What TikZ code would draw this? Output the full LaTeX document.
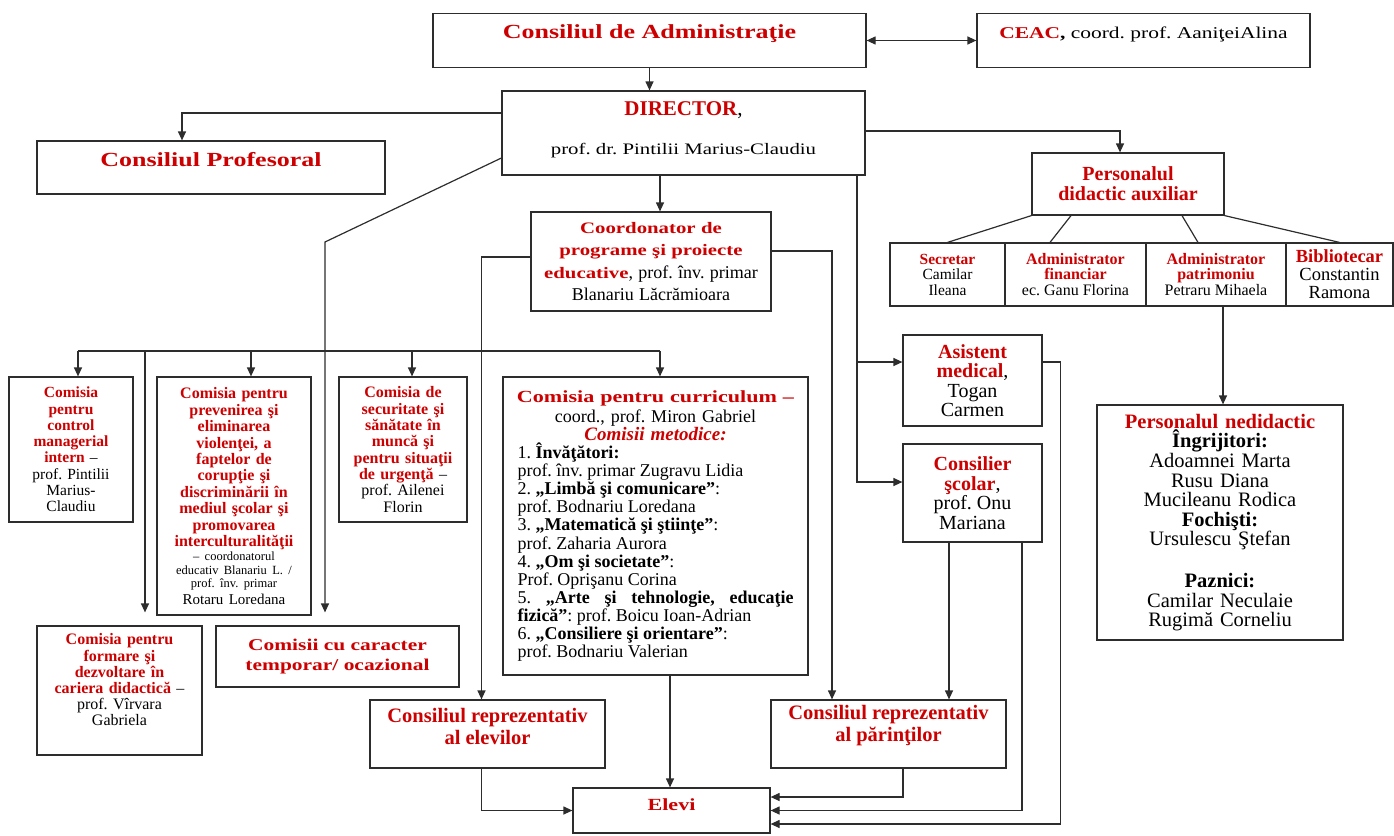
\documentclass[tikz,border=0pt]{standalone}
\usepackage{fontspec}
\setmainfont{Liberation Serif}
\newfontfamily\widefont{Liberation Serif}[FakeStretch=1.3]
\usetikzlibrary{arrows.meta, positioning}
\frenchspacing

\definecolor{redtxt}{RGB}{204,0,0}
\definecolor{linegray}{RGB}{45,45,45}
\newcommand{\redb}[1]{{\color{redtxt}\bfseries #1}}
\newcommand{\redw}[1]{{\widefont\color{redtxt}\bfseries #1}}
\newcommand{\fs}[2]{\fontsize{#1}{#2}\selectfont}

\begin{document}
\begin{tikzpicture}[x=1pt,y=-1pt,>={Triangle[length=9pt,width=8pt]},
    box node/.style={rectangle,draw=linegray,line width=1.2pt,inner sep=2pt},
    link/.style={draw=linegray,line width=1.2pt}]

        \useasboundingbox (0,0) rectangle (1394,835);

        % top row
        \node[box node, minimum width=433pt, minimum height=54pt] (cda) at (649.5,40.5) {};
        \node[anchor=base, text=redtxt, font=\widefont\bfseries\fs{20}{20}] (cdaText) at ([yshift=2.5pt]cda.center) {Consiliul de Administraţie};
        \node[box node, minimum width=333pt, minimum height=54pt] (ceac) at (1143.5,40.5) {};
        \node[anchor=base, font=\widefont\fs{16.5}{16.5}] (ceacText) at ([yshift=2.5pt]ceac.center) {\redb{CEAC}\textbf{,} coord. prof. AaniţeiAlina};

        \node[box node, minimum width=363pt, minimum height=84pt] (dir) at (683.5,133) {};
        \node[anchor=base, font=\fs{21}{21}] (dirHead) at ([yshift=18pt]dir.center) {\redb{DIRECTOR},};
        \node[anchor=base, font=\widefont\fs{16}{16}] (dirName) at ([yshift=-21pt]dir.center) {prof. dr. Pintilii Marius-Claudiu};

        \node[box node, minimum width=348pt, minimum height=53pt] (cp) at (211,167.5) {};
        \node[anchor=base, text=redtxt, font=\widefont\bfseries\fs{20}{20}] (cpText) at ([yshift=1.5pt]cp.center) {Consiliul Profesoral};

        % didactic auxiliar
        \node[box node, minimum width=192pt, minimum height=62pt, align=center, text=redtxt, font=\bfseries\fs{20}{20}] (pda) at (1128,184) {Personalul\\didactic auxiliar};
        \node[box node, minimum width=115pt, minimum height=63pt, align=center, font=\fs{15.5}{15.5}] (secr) at (947.5,274.5) {\redb{Secretar}\\Camilar\\Ileana};
        \node[box node, minimum width=141pt, minimum height=63pt, align=center, font=\fs{16}{15.7}] (fin) at (1075.5,274.5) {\redb{Administrator}\\\redb{financiar}\\ec. Ganu Florina};
        \node[box node, minimum width=140pt, minimum height=63pt, align=center, font=\fs{16}{15.7}] (patr) at (1216,274.5) {\redb{Administrator}\\\redb{patrimoniu}\\Petraru Mihaela};
        \node[box node, minimum width=107pt, minimum height=63pt, align=center, font=\fs{18.5}{18}] (bibl) at (1339.5,274.5) {\redb{Bibliotecar}\\Constantin\\Ramona};

        \node[box node, minimum width=246pt, minimum height=235pt, text width=240pt, align=center, font=\fs{20.5}{19.6}] (pn) at (1220,522.5)
            {\redb{Personalul nedidactic}\\\textbf{Îngrijitori:}\\Adoamnei Marta\\Rusu Diana\\Mucileanu Rodica\\\textbf{Fochişti:}\\Ursulescu Ştefan\\[22pt]\textbf{Paznici:}\\Camilar Neculaie\\Rugimă Corneliu};

        \node[box node, minimum width=139pt, minimum height=91pt, align=center, font=\fs{20}{19.5}] (asist) at (972.5,380.5) {\redb{Asistent}\\\redb{medical},\\Togan\\Carmen};
        \node[box node, minimum width=139pt, minimum height=98pt, align=center, font=\fs{20}{19.5}] (cons) at (972.5,493) {\redb{Consilier}\\\redb{şcolar},\\prof. Onu\\Mariana};

        % coordonator si comisii
        \node[box node, minimum width=240pt, minimum height=99pt, text width=234pt, align=center, font=\fs{16}{22.3}] (coord) at (651,261.5)
            {\redw{Coordonator de}\\\redw{programe şi proiecte}\\\redw{educative}{\fs{18}{22.3}, prof. înv. primar}\\{\fs{18}{22.3}Blanariu Lăcrămioara}};

        \node[box node, minimum width=124pt, minimum height=145pt, text width=120pt, align=center, font=\fs{15.5}{16.3}] (ctrl) at (71,449.5)
            {\redb{Comisia}\\\redb{pentru}\\\redb{control}\\\redb{managerial}\\\redb{intern} –\\prof. Pintilii\\Marius-\\Claudiu};
        \node[box node, minimum width=154pt, minimum height=238pt, text width=150pt, align=center, font=\fs{16}{16.4}] (prev) at (234,496)
            {\redb{Comisia pentru}\\\redb{prevenirea şi}\\\redb{eliminarea}\\\redb{violenţei, a}\\\redb{faptelor de}\\\redb{corupţie şi}\\\redb{discriminării în}\\\redb{mediul şcolar şi}\\\redb{promovarea}\\\redb{interculturalităţii}\par\vspace{1pt}
             \fs{12.5}{13.4}– coordonatorul\\educativ Blanariu L. /\\prof. înv. primar\par\fs{15}{14}Rotaru Loredana};
        \node[box node, minimum width=128pt, minimum height=145pt, text width=124pt, align=center, font=\fs{16}{16.3}] (sec) at (403,449.5)
            {\redb{Comisia de}\\\redb{securitate şi}\\\redb{sănătate în}\\\redb{muncă şi}\\\redb{pentru situaţii}\\\redb{de urgenţă} –\\prof. Ailenei\\Florin};

        \node[box node, minimum width=305pt, minimum height=298pt, text width=296pt, align=center, font=\fs{18}{18.1}] (curr) at (655.5,526)
            {\redw{\fs{17}{20}Comisia pentru curriculum –}\\[2pt]
             coord., prof. Miron Gabriel\\
             {\color{redtxt}\bfseries\itshape\fs{19}{18.1}Comisii metodice:}\\
             \parbox[t]{276pt}{\raggedright\spaceskip=0pt\xspaceskip=0pt\fs{18}{18.1}%
             1. \textbf{Învăţători:}\\
             prof. înv. primar Zugravu Lidia\\
             2. \textbf{„Limbă şi comunicare”}:\\
             prof. Bodnariu Loredana\\
             3. \textbf{„Matematică şi ştiinţe”}:\\
             prof. Zaharia Aurora\\
             4. \textbf{„Om şi societate”}:\\
             Prof. Oprişanu Corina\\
             \makebox[276pt][s]{5. \textbf{„Arte şi tehnologie, educaţie}}\\
             \textbf{fizică”}: prof. Boicu Ioan-Adrian\\
             6. \textbf{„Consiliere şi orientare”}:\\
             prof. Bodnariu Valerian}};

        \node[box node, minimum width=165pt, minimum height=129pt] (form) at (119.5,690.5) {};
        \node[text width=160pt, align=center, font=\fs{16}{16.2}] (formText) at ([yshift=10.5pt]form.center)
            {\redb{Comisia pentru}\\\redb{formare şi}\\\redb{dezvoltare în}\\\redb{cariera didactică} –\\prof. Vîrvara\\Gabriela};
        \node[box node, minimum width=243pt, minimum height=61pt, align=center, text=redtxt, font=\widefont\bfseries\fs{16.5}{20}] (temp) at (337.5,656.5) {Comisii cu caracter\\temporar/ ocazional};

        % consilii si elevi
        \node[box node, minimum width=235pt, minimum height=68pt] (cre) at (487.5,734) {};
        \node[align=center, text=redtxt, font=\bfseries\fs{20.5}{22}] (creText) at ([yshift=8pt]cre.center) {Consiliul reprezentativ\\al elevilor};
        \node[box node, minimum width=235pt, minimum height=68pt] (crp) at (888.5,734) {};
        \node[align=center, text=redtxt, font=\bfseries\fs{20.5}{22}] (crpText) at ([yshift=8pt]crp.center) {Consiliul reprezentativ\\al părinţilor};
        \node[box node, minimum width=197pt, minimum height=45pt] (elevi) at (671.5,810.5) {};
        \node[anchor=base, text=redtxt, font=\widefont\bfseries\fs{17}{17}] (eleviText) at ([yshift=0.5pt]elevi.center) {Elevi};

        \coordinate (kink) at (325,242);
        \coordinate (busL) at (78,351);
        \coordinate (busR) at (660,351);
        \coordinate (medLine) at ([xshift=173.5pt]dir.south);
        \coordinate (asistIn) at ([yshift=18.5pt]asist.west);

        \draw[link,<->] (cda.east) -- (ceac.west);
        \draw[link,->] (cda.south) -- (cda.south |- dir.north);
        \draw[link,->] ([yshift=20pt]dir.west) -| ([xshift=-29pt]cp.north);
        \draw[link,->] ([yshift=2pt]dir.east) -| ([xshift=-8pt]pda.north);
        \draw[link,->] ([xshift=9pt]coord.north |- dir.south) -- ([xshift=9pt]coord.north);
        \draw[link,->] ([yshift=-25pt]dir.west) -- (kink) -- ([yshift=13pt]kink |- temp.north);

        \draw[link] (pda.south west) -- (secr.north);
        \draw[link] ([xshift=-57pt]pda.south) -- ([xshift=-25.5pt]fin.north);
        \draw[link] ([xshift=54pt]pda.south) -- ([xshift=-18pt]patr.north);
        \draw[link] (pda.south east) -- (bibl.north);
        \draw[link,->] ([xshift=7pt]patr.south) -- ([xshift=7pt]patr.south |- pn.north);

        \draw[link] (busL) -- (busR);
        \draw[link,->] (busL) -- (busL |- ctrl.north);
        \draw[link,->] ([xshift=17pt]prev.north |- busL) -- ([xshift=17pt]prev.north);
        \draw[link,->] ([xshift=9pt]sec.north |- busL) -- ([xshift=9pt]sec.north);
        \draw[link,->] (busR) -- (busR |- curr.north);
        \draw[link,->] ([xshift=25.5pt]form.north |- busL) -- ([xshift=25.5pt,yshift=13pt]form.north);

        \draw[link,->] ([yshift=4.5pt]coord.west) -| ([xshift=-6pt]cre.north);
        \draw[link,->] ([yshift=10.5pt]coord.east) -| ([xshift=-56.5pt]crp.north);
        \draw[link,->] (medLine) |- ([yshift=11pt]cons.west);
        \draw[link,->] (medLine |- asistIn) -- (asistIn);

        \draw[link,->] ([yshift=18.5pt]asist.east) -- ++(18,0) |- ([yshift=-13.5pt]elevi.east);
        \draw[link,->] ([xshift=49.5pt]cons.south) |- (elevi.east);
        \draw[link,->] ([xshift=-23.5pt]cons.south) -- ([xshift=-23.5pt]cons.south |- crp.north);
        \draw[link,->] ([xshift=14.5pt]crp.south) |- ([yshift=13.5pt]elevi.east);
        \draw[link,->] ([xshift=-6pt]cre.south) |- (elevi.west);
        \draw[link,->] ([xshift=14.5pt]curr.south) -- ([xshift=14.5pt]curr.south |- elevi.north);

\end{tikzpicture}
\end{document}
